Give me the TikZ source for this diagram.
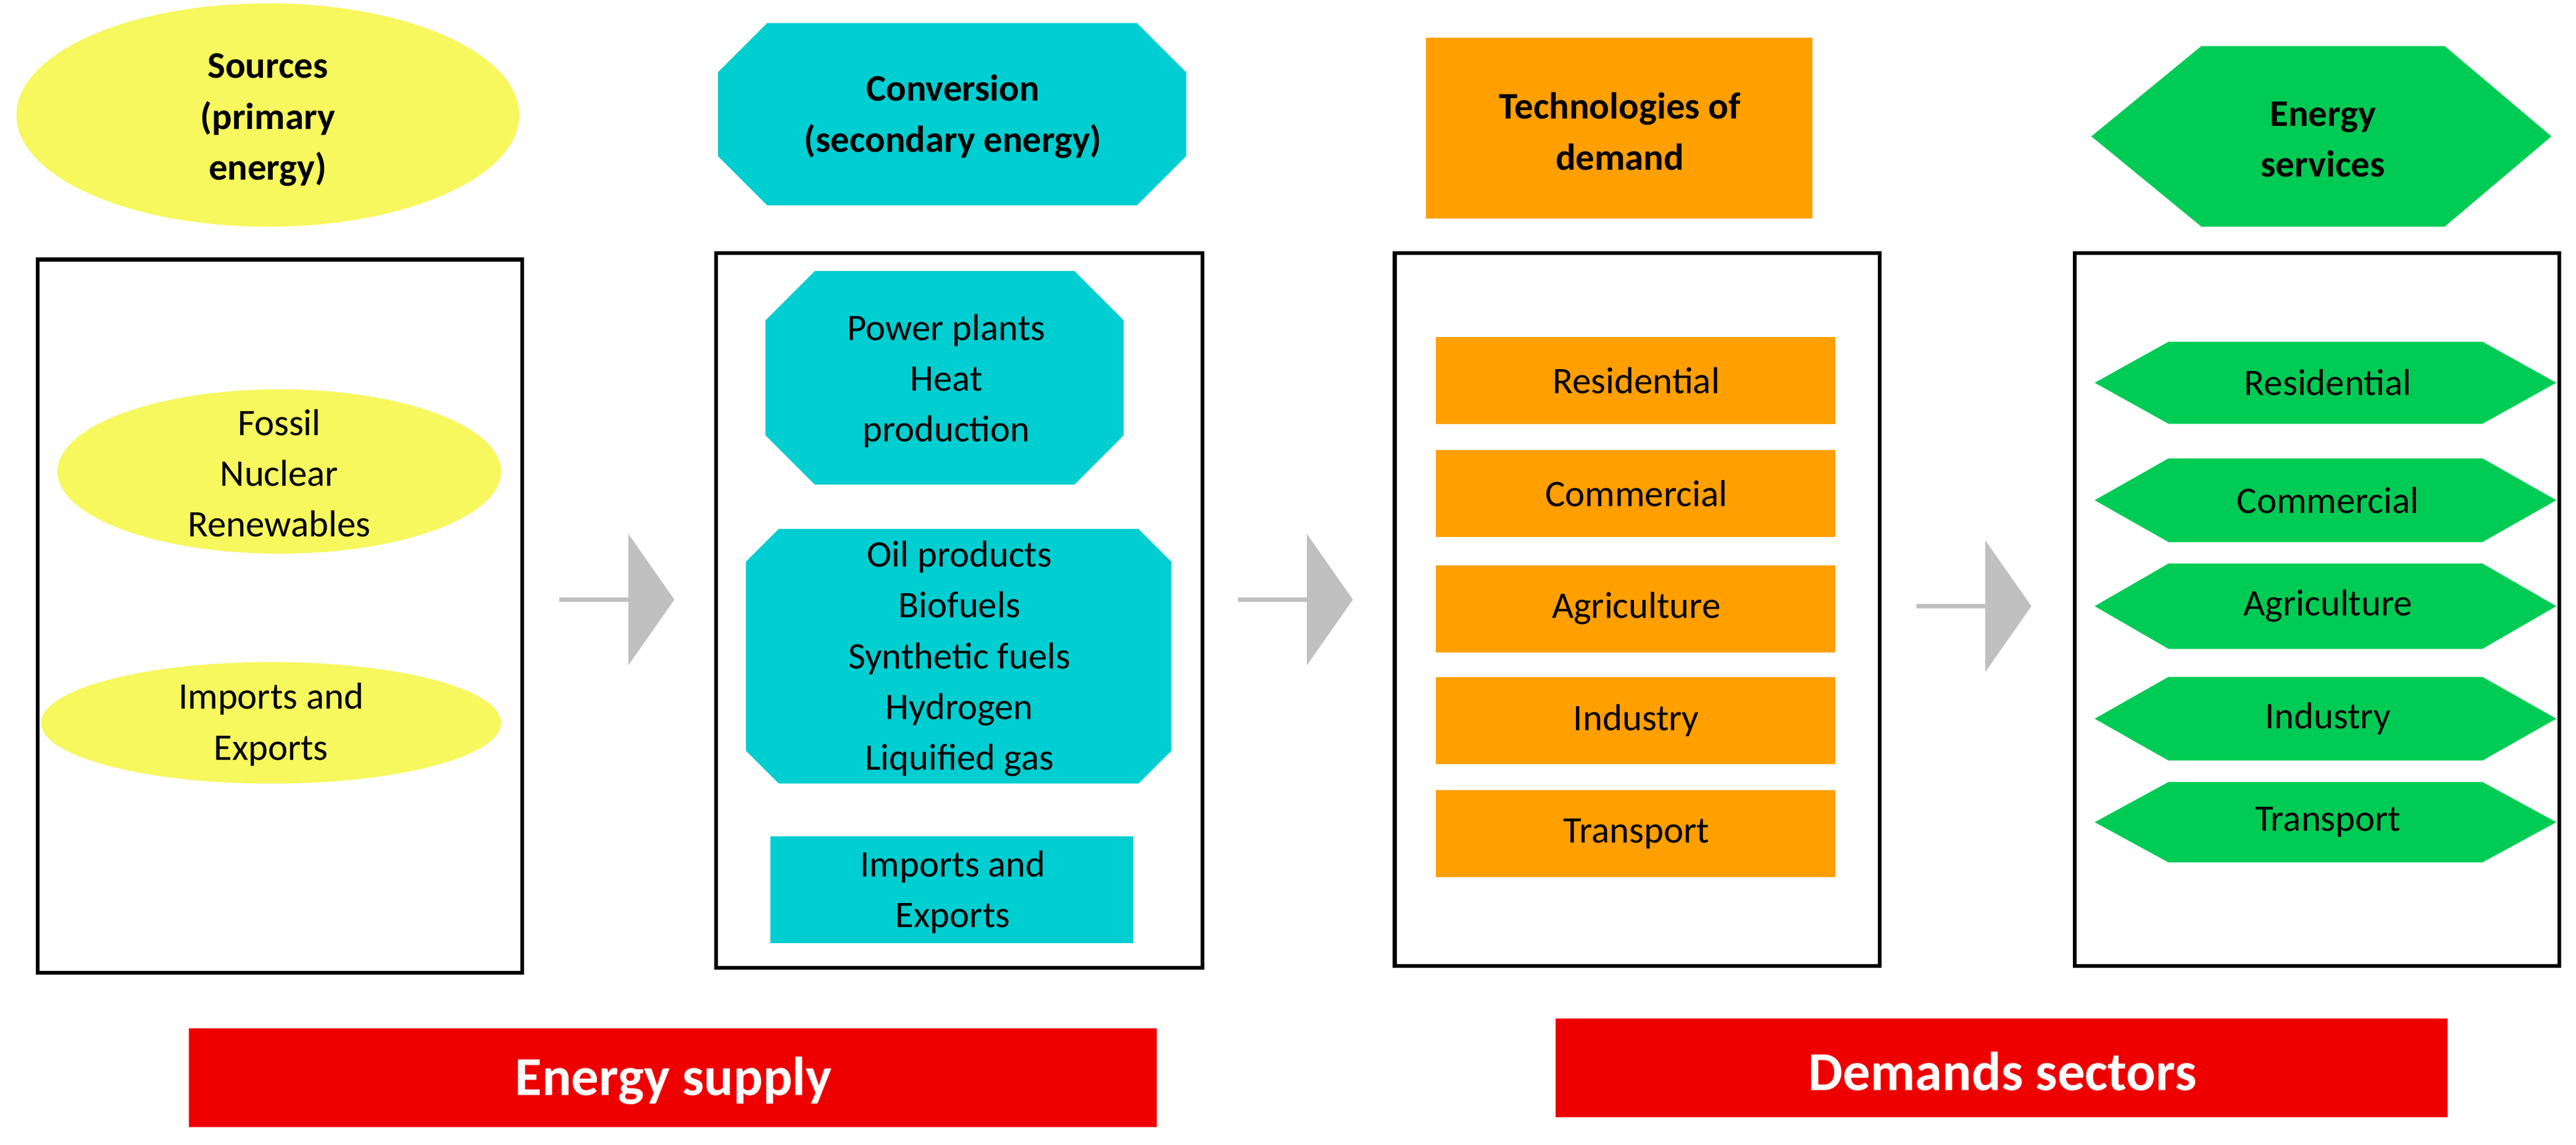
\documentclass[tikz,border=0pt]{standalone}
\usepackage{fontspec}
\setmainfont{Carlito}
\usetikzlibrary{shapes.arrows}
\definecolor{yel}{HTML}{F7F75E}
\definecolor{cya}{HTML}{00CED1}
\definecolor{ora}{HTML}{FF9F00}
\definecolor{gre}{HTML}{00CC55}
\definecolor{rd}{HTML}{EE0000}
\definecolor{gry}{HTML}{C0C0C0}
\begin{document}
\begin{tikzpicture}[x=0.02cm,y=-0.02cm,
  txt/.style={align=center,font=\fontsize{13}{17.6}\selectfont},
  ttl/.style={align=center,font=\fontsize{13}{17.6}\selectfont\bfseries},
  frame/.style={draw=black,line width=1.3pt},
  arr/.style={single arrow,fill=gry,draw=none,minimum height=1.4cm,minimum width=1.6cm,single arrow head extend=0.2cm,single arrow tip angle=110,inner sep=0pt}]
\useasboundingbox (0,0) rectangle (1568,697);
% column 1
\fill[yel] (163,70) ellipse [x radius=153,y radius=68];
\node[ttl] (t1) at (163,73) {Sources\\(primary\\energy)};
\draw[frame] (23,158) rectangle (318,592);
\fill[yel] (170,287) ellipse [x radius=135,y radius=50];
\node[txt] (s1) at (170,288) {Fossil\\Nuclear\\Renewables};
\fill[yel] (165,440) ellipse [x radius=140,y radius=37];
\node[txt] (s2) at (165,441) {Imports and\\Exports};
\node[arr] (a1) at (375,365) {};
% column 2
\fill[cya] (467,14)--(692,14)--(722,44)--(722,95)--(692,125)--(467,125)--(437,95)--(437,44)--cycle;
\node[ttl] (t2) at (580,71) {Conversion\\(secondary energy)};
\draw[frame] (436,154) rectangle (732,589);
\fill[cya] (496,165)--(654,165)--(684,195)--(684,265)--(654,295)--(496,295)--(466,265)--(466,195)--cycle;
\node[txt] (c1) at (576,232) {Power plants\\Heat\\production};
\fill[cya] (474,322)--(693,322)--(713,342)--(713,457)--(693,477)--(474,477)--(454,457)--(454,342)--cycle;
\node[txt] (c2) at (584,401) {Oil products\\Biofuels\\Synthetic fuels\\Hydrogen\\Liquified gas};
\fill[cya] (469,509) rectangle (690,574);
\node[txt] (c3) at (580,543) {Imports and\\Exports};
\node[arr] (a2) at (788,365) {};
% column 3
\fill[ora] (868,23) rectangle (1103,133);
\node[ttl] (t3) at (986,80) {Technologies of\\demand};
\draw[frame] (849,154) rectangle (1144,588);
\foreach \n/\a/\b/\l in {d1/205/258/Residential,d2/274/327/Commercial,d3/344/397/Agriculture,d4/412/465/Industry,d5/481/534/Transport}{
  \fill[ora] (874,\a) rectangle (1117,\b);
  \node[txt] (\n) at (996,{(\a+\b)/2}) {\l};
}
\node[arr] (a3) at (1201,369) {};
% column 4
\fill[gre] (1273,83)--(1340,28)--(1488,28)--(1553,83)--(1488,138)--(1340,138)--cycle;
\node[ttl] (t4) at (1414,85) {Energy\\services};
\draw[frame] (1263,154) rectangle (1558,588);
\foreach \n/\a/\b/\l in {e1/208/258/Residential,e2/279/330/Commercial,e3/343/395/Agriculture,e4/412/463/Industry,e5/476/525/Transport}{
  \fill[gre] (1275,{(\a+\b)/2})--(1320,\a)--(1511,\a)--(1556,{(\a+\b)/2})--(1511,\b)--(1320,\b)--cycle;
  \node[txt] (\n) at (1417,{(\a+\b)/2}) {\l};
}
% bottom
\fill[rd] (115,626) rectangle (704,686);
\node[font=\fontsize{19}{22}\selectfont\bfseries,text=white] (b1) at (410,658) {Energy supply};
\fill[rd] (947,620) rectangle (1490,680);
\node[font=\fontsize{19}{22}\selectfont\bfseries,text=white] (b2) at (1219,652) {Demands sectors};
\end{tikzpicture}
\end{document}
